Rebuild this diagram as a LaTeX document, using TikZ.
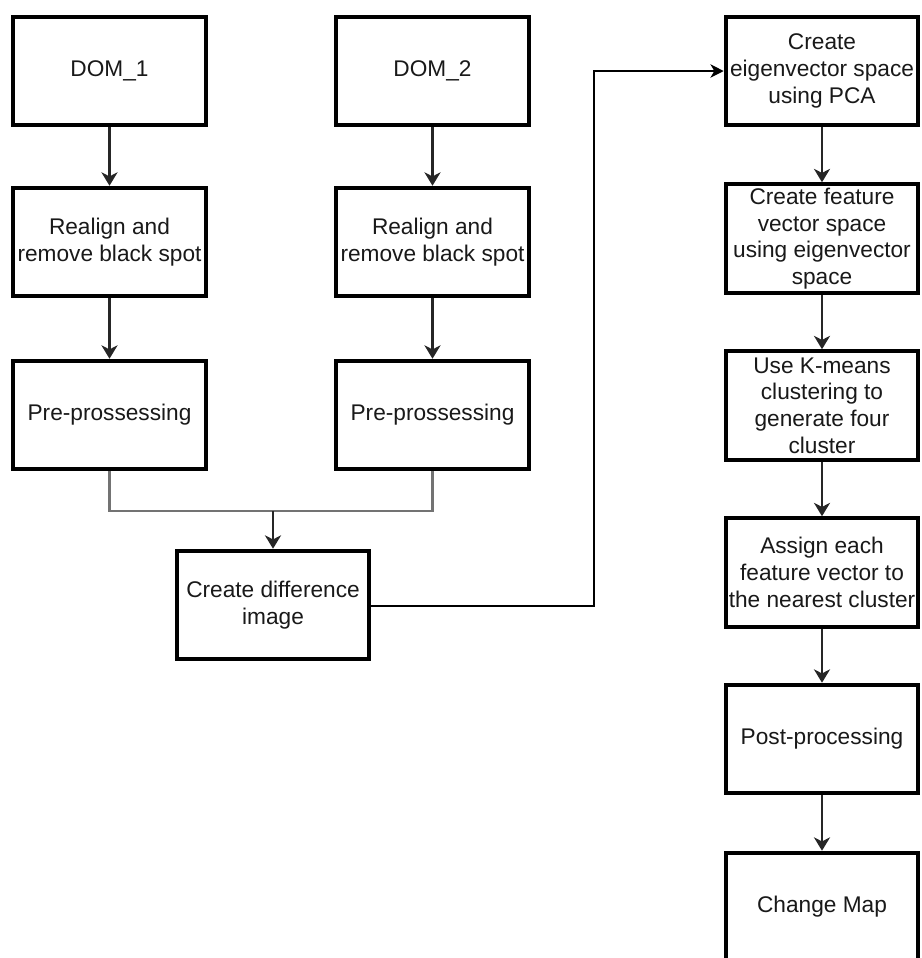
\documentclass[tikz,border=0pt]{standalone}
\usepackage{fontspec}
\setmainfont{Liberation Sans}
\usetikzlibrary{arrows.meta}
\begin{document}
\begin{tikzpicture}[x=0.75pt,y=-0.75pt,
  box/.style={draw=black, line width=3pt, fill=white, rectangle,
    minimum width=144.4pt, minimum height=81.4pt, inner sep=0pt,
    align=center, font=\fontsize{17pt}{20pt}\selectfont, text=black!90},
  flow/.style={draw=black!85, line width=1.8pt,
    -{Stealth[length=10pt,width=12pt,inset=3pt]}},
  bus/.style={draw=black!55, line width=1.8pt},
  link/.style={draw=black, line width=1.2pt,
    -{Stealth[length=10pt,width=10pt,inset=3pt]}}]
\useasboundingbox (0,0) rectangle (922,958);

% left branch
\node[box] (dom1) at (109.5,71) {DOM\_1};
\node[box] (re1)  at (109.5,242) {Realign and\\remove black spot};
\node[box] (pre1) at (109.5,415) {Pre-prossessing};

% right branch
\node[box] (dom2) at (432.5,71) {DOM\_2};
\node[box] (re2)  at (432.5,242) {Realign and\\remove black spot};
\node[box] (pre2) at (432.5,415) {Pre-prossessing};

% merge
\node[box] (diff) at (273,605) {Create difference\\image};

% analysis column
\node[box] (eig)  at (822,71)    {Create\\eigenvector space\\using PCA};
\node[box] (feat) at (822,238.5) {Create feature\\vector space\\using eigenvector\\space};
\node[box] (km)   at (822,405.5) {Use K-means\\clustering to\\generate four\\cluster};
\node[box] (asg)  at (822,572.5) {Assign each\\feature vector to\\the nearest cluster};
\node[box] (post) at (822,739)   {Post-processing};
\node[box] (cmap) at (822,907)   {Change Map};

% vertical flows
\draw[flow] (dom1) -- (re1);
\draw[flow] (re1) -- (pre1);
\draw[flow] (dom2) -- (re2);
\draw[flow] (re2) -- (pre2);

\coordinate (join) at (273,511);
\draw[bus] (pre1.south) |- (join);
\draw[bus] (pre2.south) |- (join);
\draw[flow] (join) -- (diff.north);

\coordinate (turn) at (594,606);
\draw[link] (diff.east |- turn) -- (turn) |- (eig.west);

\draw[flow] (eig) -- (feat);
\draw[flow] (feat) -- (km);
\draw[flow] (km) -- (asg);
\draw[flow] (asg) -- (post);
\draw[flow] (post) -- (cmap);
\end{tikzpicture}
\end{document}
